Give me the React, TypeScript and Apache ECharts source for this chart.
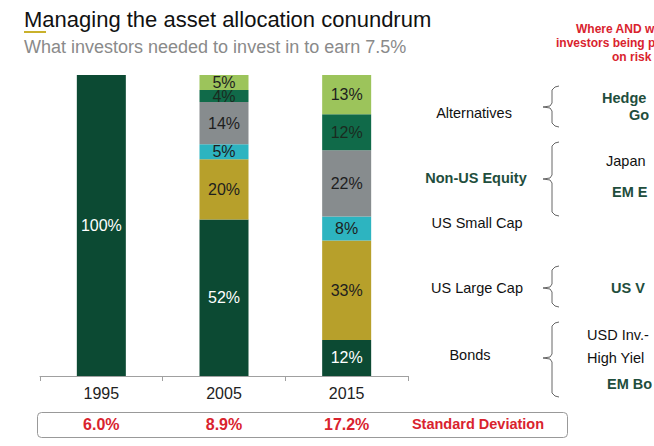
import React, { useEffect, useRef } from "react";
import * as echarts from "echarts";

const years = ["1995", "2005", "2015"];
const stdDev = ["6.0%", "8.9%", "17.2%"];
const bonds = [100, 52, 12];
const usLargeCap = [null, 20, 33];
const usSmallCap = [null, 5, 8];
const nonUsEquity = [null, 14, 22];
const altGreen = [null, 4, 12];
const altLight = [null, 5, 13];

const seriesDefs = [
  { name: "Bonds", data: bonds, color: "#0c4a33", label: "#ffffff" },
  { name: "US Large Cap", data: usLargeCap, color: "#b7a02b", label: "#1e1e1e" },
  { name: "US Small Cap", data: usSmallCap, color: "#2db4c0", label: "#1e1e1e" },
  { name: "Non-US Equity", data: nonUsEquity, color: "#878c8e", label: "#1e1e1e" },
  { name: "Alternatives A", data: altGreen, color: "#106a49", label: "#1a2a20" },
  { name: "Alternatives B", data: altLight, color: "#9cc45b", label: "#1e1e1e" },
];

const FONT = "Liberation Sans, Arial, sans-serif";
const RED = "#d9232e";
const DKGREEN = "#1f4e3d";

function brace(top: number, bottom: number, tip: number) {
  return {
    type: "polyline",
    shape: {
      points: [
        [559, top], [555, top + 1], [552, top + 4],
        [552, tip - 4], [550, tip - 1], [543, tip], [550, tip + 1], [552, tip + 4],
        [552, bottom - 4], [555, bottom - 1], [559, bottom],
      ],
    },
    style: { stroke: "#666", lineWidth: 1, fill: null },
  };
}

function txt(x: number, y: number, text: string, opts: any = {}) {
  return {
    type: "text",
    x,
    y,
    style: {
      text,
      fontFamily: FONT,
      fontSize: opts.size || 14.5,
      fontWeight: opts.bold ? "bold" : "normal",
      fill: opts.color || "#111",
      textAlign: opts.align || "left",
      textVerticalAlign: "middle",
    },
  };
}

export default function App() {
  const ref = useRef<HTMLDivElement>(null);
  useEffect(() => {
    const chart = echarts.init(ref.current!, null, { renderer: "svg" });
    chart.setOption({
      animation: false,
      backgroundColor: "#ffffff",
      grid: { left: 40, right: 246, top: 75, bottom: 70 },
      xAxis: [
        {
          type: "category",
          data: years,
          axisLine: { lineStyle: { color: "#a0a0a0" } },
          axisTick: { show: true, length: 5, lineStyle: { color: "#a0a0a0" } },
          axisLabel: { color: "#222", fontSize: 16, fontFamily: FONT, margin: 9 },
        },
        {
          type: "category",
          data: stdDev,
          position: "bottom",
          offset: 40,
          axisLine: { show: false },
          axisTick: { show: false },
          axisLabel: { color: RED, fontSize: 16, fontWeight: "bold", fontFamily: FONT, margin: 0 },
        },
      ],
      yAxis: { type: "value", min: 0, max: 100, show: false, splitLine: { show: false } },
      series: seriesDefs.map((s) => ({
        name: s.name,
        type: "bar",
        stack: "total",
        barWidth: 49,
        data: s.data,
        itemStyle: { color: s.color },
        label: {
          show: true,
          position: "inside",
          formatter: "{c}%",
          color: s.label,
          fontSize: 16,
          fontFamily: FONT,
        },
      })),
      graphic: [
        txt(24, 19, "Managing the asset allocation conundrum", { size: 22, color: "#111" }),
        { type: "rect", shape: { x: 24, y: 31, width: 22, height: 2 }, style: { fill: "#c9b12b" } },
        txt(24, 47, "What investors needed to invest in to earn 7.5%", { size: 18, color: "#8a8a8a" }),
        txt(576, 29, "Where AND w", { size: 12, bold: true, color: RED }),
        txt(556, 43, "investors being p", { size: 12, bold: true, color: RED }),
        txt(612, 57, "on risk", { size: 12, bold: true, color: RED }),
        txt(474, 113, "Alternatives", { align: "center" }),
        txt(476, 178, "Non-US Equity", { align: "center", bold: true, color: DKGREEN }),
        txt(477, 223, "US Small Cap", { align: "center" }),
        txt(477, 288, "US Large Cap", { align: "center" }),
        txt(470, 355, "Bonds", { align: "center" }),
        brace(86, 127, 107),
        brace(142, 216, 179),
        brace(266, 307, 288),
        brace(322, 397, 358),
        txt(602, 98, "Hedge", { bold: true, color: DKGREEN }),
        txt(629, 115, "Go", { bold: true, color: DKGREEN }),
        txt(606, 161, "Japan"),
        txt(612, 192, "EM E", { bold: true, color: DKGREEN }),
        txt(611, 288, "US V", { bold: true, color: DKGREEN }),
        txt(587, 335, "USD Inv.-"),
        txt(587, 358, "High Yiel"),
        txt(607, 384, "EM Bo", { bold: true, color: DKGREEN }),
        {
          type: "rect",
          shape: { x: 37.5, y: 412.5, width: 530, height: 25, r: 4 },
          style: { fill: "none", stroke: "#999", lineWidth: 1 },
        },
        txt(478, 424, "Standard Deviation", { align: "center", bold: true, color: RED }),
      ],
    });
    return () => chart.dispose();
  }, []);
  return (
    <div
      ref={ref}
      style={{ position: "fixed", left: 0, top: 0, width: 654, height: 446 }}
    />
  );
}
